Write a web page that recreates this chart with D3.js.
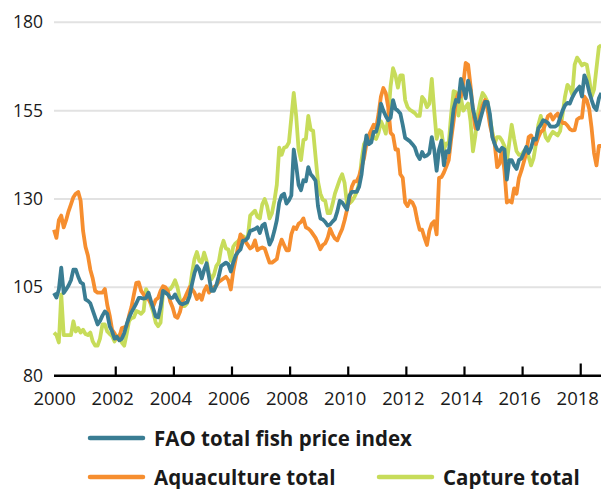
<!DOCTYPE html>
<html>
<head>
<meta charset="utf-8">
<script src="https://cdn.jsdelivr.net/npm/d3@7"></script>
<style>
  body { margin: 0; background: #fff; }
  text { font-family: "Open Sans", "Noto Sans", sans-serif; fill: #1a1a1a; }
</style>
</head>
<body>
<script>
// monthly index values, from Jan 2000 onwards
var fishIndex = [103.4,102.1,104.4,110.6,103.4,104.4,105.5,107,110,110,
  108,106.4,106,101.6,101.2,100.5,98.5,96.5,94.5,95.5,
  97,98.2,97.5,94,92.5,90.5,91,90,90.5,92,
  94.5,96.5,98,99.2,100.5,102,102,101.8,102,103.5,
  101.2,99,96.8,96.5,99.5,104,103.5,103,102,102,
  103,101.5,100.5,100.2,100.5,100.8,102.5,106,109,111,
  110,107.5,110,111.8,108,104,104,105.5,108,111,
  111.5,112,111.5,109.5,112,114,115,115.7,118.2,118.3,
  119,121,121.2,121.5,122,120.4,122.5,123,120,117.1,
  118.5,121,124,129,131,131.5,128.7,129.6,131,144,
  139.5,134,132.5,135.3,135,139,137,136.2,135.2,128,
  124.5,124.2,123.5,122.5,122.8,123.6,124.3,126.5,129.5,129,
  128,127,131,132,132,132,133.5,137,143,148,
  145.5,146,149,149,151.5,157,155,153.5,152.3,153,
  158,155.5,155,154.2,151,147.3,146.8,146.3,145.5,144.6,
  142.5,141.3,143.3,142,142.3,143,147.5,144,138,144,
  146.5,139.5,143.5,143.2,149,155.5,158,157.5,164,161.4,
  158.5,163.5,160.8,155.5,152.5,149.8,152.5,155,157.5,157.5,
  154,147.5,145.5,144,143.5,144.5,144,135.5,141,141,
  139.5,138.5,141,141.5,143,144.7,143,144.5,147,146.8,
  150,151,152.3,152,151.5,150.5,150.5,150.5,151,153,
  155,156.5,157.2,157,158.7,160,161,161.8,159,165,
  163.3,160.3,158,156,155.2,158.5,160];

var aquaculture = [121.3,119,124,125.3,122,124,126.5,128.5,130.5,131.5,
  132,129.5,121,116.5,114,110,107.5,104,103.5,103.5,
  103.5,104.5,100,97,93,92,90.5,91,93.5,93.7,
  94,97,99.5,103,106.3,106.4,104,103,102,101.6,
  100.5,99.7,101.5,102,104,105.3,105,104,101,99.3,
  96.8,96.4,98,101,102,103.5,105,104.5,103.5,
  101.7,103,101.5,104,105.3,103.5,104.5,105,105.5,106.5,
  107,107.5,108,107,104.4,109.5,113,116.5,120,119,
  118,117,116,116.5,118.3,115.5,116,116.3,116,114,
  112,112,112.5,113,116.4,118.5,117,115.5,115.5,120,
  122,121.5,123,123.5,124.5,122,121.6,121,120,119,
  117.5,115.8,117,117.5,119,121.6,120,118.8,118.3,120,
  121.5,124,127,130,133.5,135,135,136.5,139,141.5,
  145.5,148,149.5,151,150,154,159,161.4,160,156,
  148.7,148,144,144,137,136,129,128,129.5,129,
  127.5,124,121.3,121.3,119,117,121,123,123.7,120,
  136,136.2,137.5,139.2,141,147,152,158,159.8,
  159,162.5,168.5,168,162,155,150,150,154,156.5,
  158,155.5,151,148,145.5,139,140,144,138,129,
  129.5,129,133,131.5,136,138,140.5,143,147.5,148,
  146.5,145.5,147.5,149,149.5,151.5,153.5,154,152.5,153.5,
  154.2,152.5,151.5,151.5,150.8,149.8,149.4,149.5,152.5,153,
  153,159,158,155.5,150,143,139.5,145,145];

var capture = [92.2,91.5,89.4,103,91.5,91.5,91.5,91.5,95.4,92.5,
  93.5,92.2,93,91.8,91.5,92.2,89.7,88.5,88.5,90.5,
  94.5,94.5,92.5,91.8,91.2,89.7,91,91.5,89.4,88.5,
  91.8,95.5,96.3,96.5,98.3,98,97.5,98.3,104.5,103,
  100,98,95,94,95,103.5,104.4,104.4,104.5,105.5,
  107,105,101.5,99.7,99.7,100.5,104,109,113,115,
  112.5,112,114.8,112.5,109,107.3,108.5,111,112,116,
  118.2,116,115.7,112.5,116.5,117.5,118,119,119.5,119,
  119,125.3,126,126.7,125,124.5,128.5,130,128,124.5,
  126,129.5,134,144.5,142.5,144.5,144.8,146,153,160,
  153.5,144,141,146.7,147,153.5,149.6,149.3,142,135,
  131.5,129.8,129.5,126,126,128.5,131.5,133.5,135.5,137,
  134.5,128.5,128.8,129.4,130.5,132,134.5,141,145.5,146.7,
  147,149,147.5,147,148.7,152,150.5,148.5,153,162,
  167,165,161.5,165,165,158,156,155.2,154.8,154.3,
  153.5,153.5,158.9,158,156,157,164,155,147,149.5,
  149,144,145.7,145.7,154,160.5,160.2,153.6,158.8,155,
  156,157,152,143.5,148,154,157.5,160,159,157.5,
  153,149,145.8,147.5,147.5,146.5,145,140.5,146,151,
  147,143.5,142.5,142.5,143.5,144.3,142,139.5,141.5,145.5,
  151,153.5,150.5,147.5,146.5,148,149,148.5,148,149.2,
  154,159,162.3,161.5,159.5,168,170,169,167.8,168.3,
  168,164,159,161,167,173,173.5];

var yTicks = [80, 105, 130, 155, 180];
var years = [2002, 2004, 2006, 2008, 2010, 2012, 2014, 2016, 2018];
var yearLabels = [2000, 2002, 2004, 2006, 2008, 2010, 2012, 2014, 2016, 2018];

var series = [
  {name: "Capture total", values: capture, color: "#c7dc5a"},
  {name: "Aquaculture total", values: aquaculture, color: "#f68e2f"},
  {name: "FAO total fish price index", values: fishIndex, color: "#3a7d93"}
];

var W = 601, H = 489;
var svg = d3.select("body").append("svg").attr("width", W).attr("height", H);

var x = d3.scaleLinear().domain([1999.875, 2018.708]).range([54, 601.3]);
var y = d3.scaleLinear().domain([80, 180]).range([375.7, 22.3]);
var tOf = function(i) { return 1999.875 + i / 12; };

// grid
svg.selectAll("line.grid")
   .data(yTicks.slice(1))
   .enter()
   .append("line")
   .attr("class", "grid")
   .attr("x1", 54).attr("x2", W)
   .attr("y1", function(d) { return y(d); })
   .attr("y2", function(d) { return y(d); })
   .attr("stroke", "#e2e2e2")
   .attr("stroke-width", 2);

svg.selectAll("text.ylab")
   .data(yTicks)
   .enter()
   .append("text")
   .attr("class", "ylab")
   .attr("x", 43)
   .attr("y", function(d) { return y(d); })
   .attr("dy", "0.35em")
   .attr("text-anchor", "end")
   .style("font-size", "17.5px")
   .text(function(d) { return d; });

// lines
var line = d3.line()
   .x(function(d, i) { return x(tOf(i)); })
   .y(function(d) { return y(d); })
   .curve(d3.curveLinear);

svg.selectAll("path.series")
   .data(series)
   .enter()
   .append("path")
   .attr("class", "series")
   .attr("d", function(s) { return line(s.values); })
   .attr("fill", "none")
   .attr("stroke", function(s) { return s.color; })
   .attr("stroke-width", 3.8)
   .attr("stroke-linejoin", "round");

// x axis
svg.append("line")
   .attr("x1", 54).attr("x2", W)
   .attr("y1", y(80)).attr("y2", y(80))
   .attr("stroke", "#000")
   .attr("stroke-width", 2.4);

svg.selectAll("line.tick")
   .data(years)
   .enter()
   .append("line")
   .attr("class", "tick")
   .attr("x1", function(d) { return x(d); })
   .attr("x2", function(d) { return x(d); })
   .attr("y1", function(d) { return d === 2018 ? 363.5 : 366.5; })
   .attr("y2", y(80))
   .attr("stroke", "#000")
   .attr("stroke-width", 2.2);

svg.selectAll("text.xlab")
   .data(yearLabels)
   .enter()
   .append("text")
   .attr("class", "xlab")
   .attr("x", function(d) { return x(d) - 3; })
   .attr("y", 405)
   .attr("text-anchor", "middle")
   .style("font-size", "18.5px")
   .text(function(d) { return d; });

// legend
var legend = [
  {s: series[2], lx: 90, ly: 438, tx: 154},
  {s: series[1], lx: 90, ly: 477, tx: 154},
  {s: series[0], lx: 379, ly: 477, tx: 443}
];

var lg = svg.selectAll("g.legend")
   .data(legend)
   .enter()
   .append("g")
   .attr("class", "legend");

lg.append("line")
   .attr("x1", function(d) { return d.lx; })
   .attr("x2", function(d) { return d.lx + 53; })
   .attr("y1", function(d) { return d.ly; })
   .attr("y2", function(d) { return d.ly; })
   .attr("stroke", function(d) { return d.s.color; })
   .attr("stroke-width", 4.5)
   .attr("stroke-linecap", "round");

lg.append("text")
   .attr("x", function(d) { return d.tx; })
   .attr("y", function(d) { return d.ly + 7.5; })
   .style("font-size", "20.5px")
   .style("font-weight", "bold")
   .text(function(d) { return d.s.name; });
</script>
</body>
</html>
